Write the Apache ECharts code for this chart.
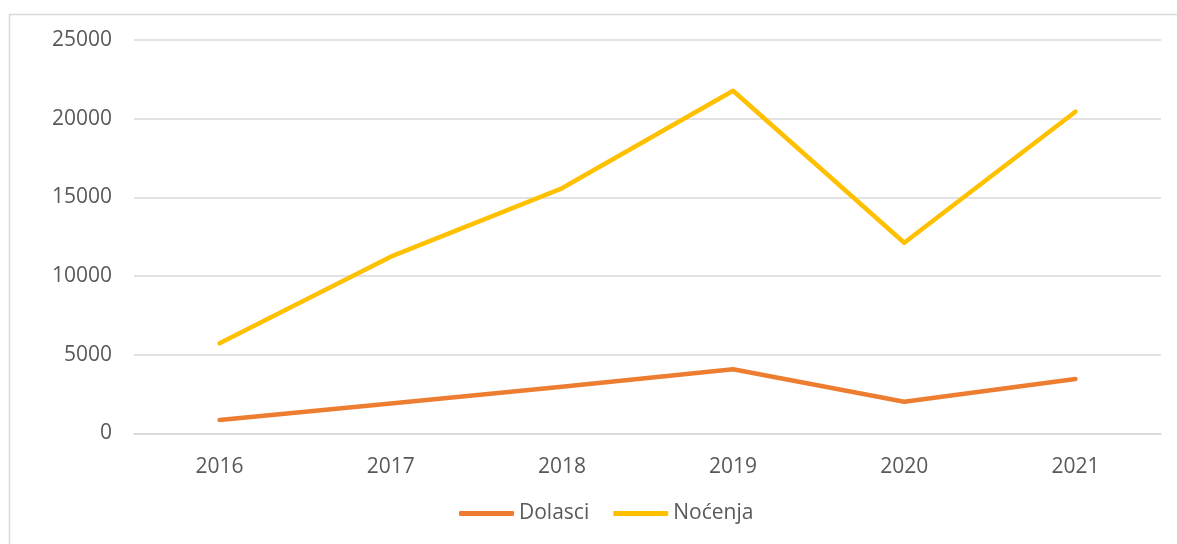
<!DOCTYPE html>
<html>
<head>
<meta charset="utf-8">
<script src="https://cdn.jsdelivr.net/npm/echarts@6/dist/echarts.min.js"></script>
<style>
  html, body { margin: 0; padding: 0; background: #fff; }
  #chart { width: 1177px; height: 544px; }
</style>
</head>
<body>
<div id="chart"></div>
<script>
  var years = ['2016', '2017', '2018', '2019', '2020', '2021'];
  var dolasci = [858, 1913, 2973, 4079, 2020, 3463];
  var nocenja = [5731, 11233, 15578, 21779, 12122, 20445];

  var textColor = '#595959';
  var font = '"Open Sans", sans-serif';

  var chart = echarts.init(document.getElementById('chart'));
  chart.setOption({
    animation: false,
    graphic: [{
      type: 'rect',
      left: 7, top: 12,
      shape: { width: 1220, height: 600 },
      style: { fill: 'none', stroke: '#d9d9d9', lineWidth: 1.5 },
      silent: true
    }],
    grid: { left: 134, right: 16, top: 40, bottom: 110.5 },
    legend: {
      left: 454, top: 498,
      icon: 'roundRect',
      itemWidth: 55, itemHeight: 5, itemGap: 24,
      textStyle: { color: textColor, fontSize: 21, fontFamily: font },
      data: [
        { name: 'Dolasci', itemStyle: { color: '#ED7D31' } },
        { name: 'Noćenja', itemStyle: { color: '#FFC000' } }
      ]
    },
    xAxis: {
      type: 'category',
      data: years,
      boundaryGap: true,
      axisLine: { show: true, lineStyle: { color: '#d9d9d9', width: 1.5 } },
      axisTick: { show: false },
      axisLabel: { color: textColor, fontSize: 21, fontFamily: font, margin: 23 }
    },
    yAxis: {
      type: 'value',
      min: 0, max: 25000, interval: 5000,
      axisLine: { show: false },
      axisTick: { show: false },
      splitLine: { lineStyle: { color: '#d9d9d9', width: 1.5 } },
      axisLabel: {
        color: textColor, fontSize: 21, fontFamily: font, margin: 22,
        formatter: function (v) { return String(v); }
      }
    },
    series: [{
      name: 'Dolasci',
      type: 'line',
      data: dolasci,
      symbol: 'none',
      color: '#ED7D31',
      lineStyle: { color: '#ED7D31', width: 4.5, cap: 'round', join: 'round' }
    }, {
      name: 'Noćenja',
      type: 'line',
      data: nocenja,
      symbol: 'none',
      color: '#FFC000',
      lineStyle: { color: '#FFC000', width: 4.5, cap: 'round', join: 'round' }
    }]
  });
</script>
</body>
</html>
